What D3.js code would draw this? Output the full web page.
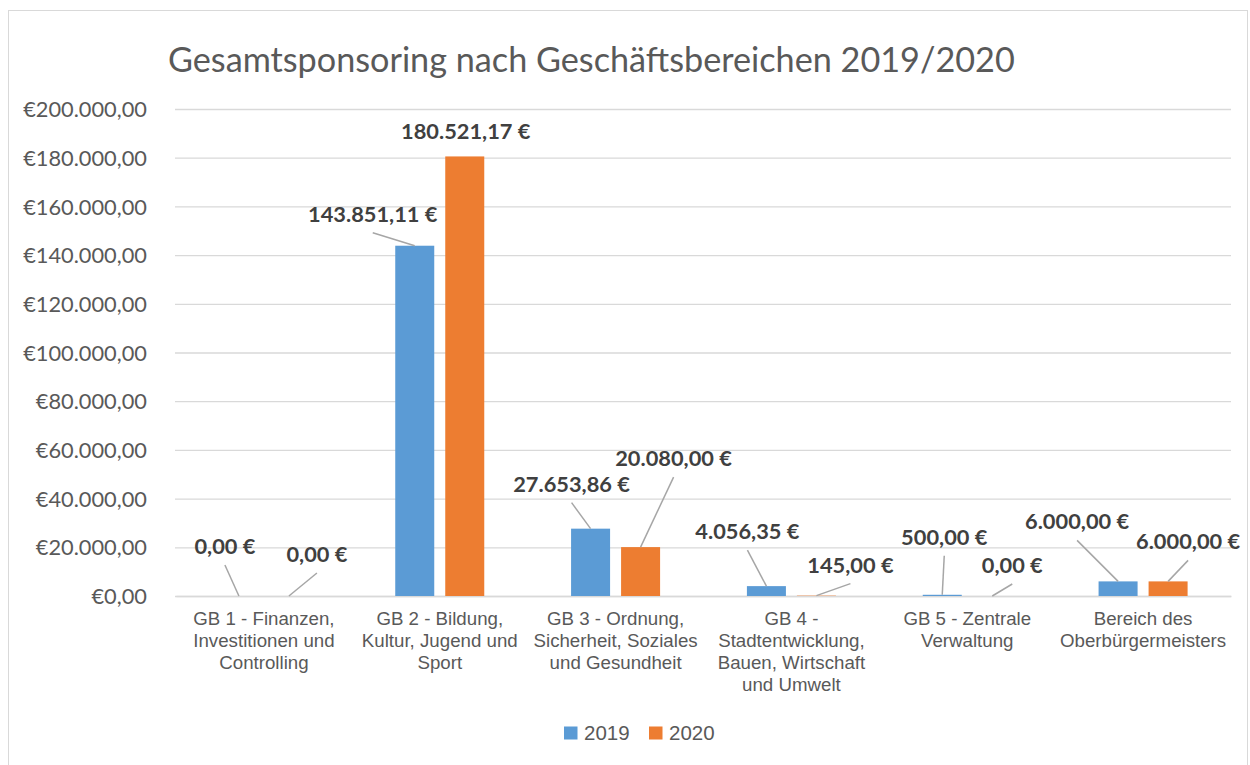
<!DOCTYPE html>
<html><head><meta charset="utf-8">
<script src="https://cdn.jsdelivr.net/npm/d3@7"></script>
<style>
html,body{margin:0;padding:0;background:#fff;}
svg{display:block;}
</style></head>
<body>
<svg id="chart" width="1250" height="765"></svg>
<script>
const title = "Gesamtsponsoring nach Geschäftsbereichen 2019/2020";
const categories = [
  ["GB 1 - Finanzen,", "Investitionen und", "Controlling"],
  ["GB 2 - Bildung,", "Kultur, Jugend und", "Sport"],
  ["GB 3 - Ordnung,", "Sicherheit, Soziales", "und Gesundheit"],
  ["GB 4 -", "Stadtentwicklung,", "Bauen, Wirtschaft", "und Umwelt"],
  ["GB 5 - Zentrale", "Verwaltung"],
  ["Bereich des", "Oberbürgermeisters"]
];
const seriesNames = ["2019", "2020"];
const values2019 = [0, 143851.11, 27653.86, 4056.35, 500, 6000];
const values2020 = [0, 180521.17, 20080, 145, 0, 6000];
const yTicks = [0, 20000, 40000, 60000, 80000, 100000, 120000, 140000, 160000, 180000, 200000];
// label placement offsets (dx, dy from bar top centre), leader line flag
const labelOffsets2019 = [[-14,-42,1],[-42,-24,1],[-19,-37,1],[-19,-47,1],[2,-50,1],[-41,-52,1]];
const labelOffsets2020 = [[28,-34,1],[1,-17,0],[33,-81,1],[34,-23,1],[20,-23,1],[20,-32,1]];

const colors = {"2019":"#5b9bd5","2020":"#ed7d31"};
const svg = d3.select("#chart");
const plot = {left:176, right:1231, top:109, bottom:596};

svg.append("rect").attr("x",8.5).attr("y",10.5).attr("width",1239).attr("height",770)
  .attr("fill","#fff").attr("stroke","#d9d9d9").attr("stroke-width",1);

const catKeys = categories.map((c,i)=>"c"+i);
const x0 = d3.scaleBand().domain(catKeys).range([plot.left,plot.right]).padding(0);
const x1 = d3.scaleBand().domain(seriesNames).range([0,x0.bandwidth()]).paddingInner(0.22).paddingOuter(0.868);
const y = d3.scaleLinear().domain([0,200000]).range([plot.bottom,plot.top]);

const fmtLocale = d3.formatLocale({decimal:",",thousands:".",grouping:[3],currency:["€",""]});
const fmtAxis = v => "€" + fmtLocale.format(",.2f")(v);
const fmtLabel = v => fmtLocale.format(",.2f")(v) + " €";

// gridlines
const yAxis = d3.axisLeft(y).tickValues(yTicks).tickSize(-(plot.right-plot.left)).tickFormat(fmtAxis);
const gy = svg.append("g").attr("transform",`translate(${plot.left},0)`).call(yAxis);
gy.select(".domain").remove();
gy.selectAll(".tick line").attr("stroke","#d9d9d9").attr("stroke-width",1.3).attr("x1",-1);
gy.selectAll(".tick text").attr("x",-29).attr("dy","0.35em")
  .attr("font-family","Lato, 'Open Sans', sans-serif").attr("font-size",21.8).attr("fill","#595959");

// x axis baseline & labels
const xAxis = d3.axisBottom(x0).tickSize(0).tickFormat("");
const gx = svg.append("g").attr("transform",`translate(0,${plot.bottom})`).call(xAxis);
gx.select(".domain").attr("stroke","#d9d9d9").attr("stroke-width",1.3);
gx.selectAll(".tick").each(function(d,i){
  const t = d3.select(this).append("text").attr("text-anchor","middle")
    .attr("font-family","'Liberation Sans',Arial,sans-serif")
    .attr("font-size",18.7).attr("fill","#595959");
  categories[i].forEach((line,j)=>{
    t.append("tspan").attr("x",0).attr("y",29 + j*22).text(line);
  });
});

// bars
const data = [];
categories.forEach((c,i)=>{
  data.push({cat:catKeys[i],s:"2019",v:values2019[i],off:labelOffsets2019[i]});
  data.push({cat:catKeys[i],s:"2020",v:values2020[i],off:labelOffsets2020[i]});
});
svg.append("g").selectAll("rect").data(data).join("rect")
  .attr("x",d=>x0(d.cat)+x1(d.s)).attr("width",x1.bandwidth())
  .attr("y",d=>y(d.v)).attr("height",d=>plot.bottom-y(d.v))
  .attr("fill",d=>colors[d.s]);

// labels and leader lines
const lg = svg.append("g");
data.forEach(d=>{
  const cx = x0(d.cat)+x1(d.s)+x1.bandwidth()/2;
  const ty = y(d.v);
  const tx = cx + d.off[0], by = ty + d.off[1];
  if(d.off[2]){
    lg.append("line").attr("x1",tx).attr("y1",by+11).attr("x2",cx).attr("y2",ty)
      .attr("stroke","#a6a6a6").attr("stroke-width",1.5);
  }
  lg.append("text").attr("x",tx).attr("y",by).attr("text-anchor","middle")
    .attr("font-family","Lato, 'Open Sans', sans-serif").attr("font-weight",700)
    .attr("font-size",21.8).attr("fill","#404040").text(fmtLabel(d.v));
});

// title
const tt = svg.append("text").attr("x",168).attr("y",72)
  .attr("font-family","Lato, 'Open Sans', sans-serif").attr("font-weight",400)
  .attr("font-size",32).attr("fill","#595959").text(title);
const tl = tt.node().getComputedTextLength();
tt.attr("font-size",32*847/tl);

// legend
const leg = svg.append("g").attr("transform","translate(564,733)");
seriesNames.forEach((s,i)=>{
  const g = leg.append("g").attr("transform",`translate(${i*85},0)`);
  g.append("rect").attr("x",0).attr("y",-6.5).attr("width",13.5).attr("height",13).attr("fill",colors[s]);
  g.append("text").attr("x",20).attr("y",0).attr("dy","0.36em")
    .attr("font-family","'Liberation Sans',Arial,sans-serif").attr("font-size",20.5).attr("fill","#595959").text(s);
});
</script>
</body></html>
